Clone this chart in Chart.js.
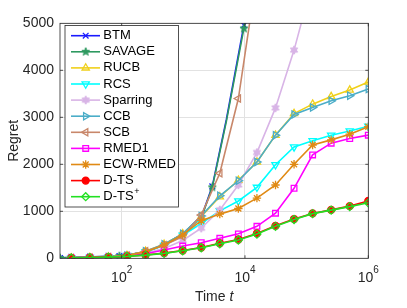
<!DOCTYPE html>
<html>
<head>
<meta charset="utf-8">
<script src="https://cdn.jsdelivr.net/npm/chart.js@4.4.1/dist/chart.umd.min.js"></script>
<style>
  html, body { margin: 0; padding: 0; background: #fff; }
  #wrap { width: 407px; height: 308px; }
</style>
</head>
<body>
<div id="wrap"><canvas id="regretChart" width="407" height="308"></canvas></div>
<script>
// time steps, halving down from 1e6
const timeSteps = [15.26, 30.5, 61, 122, 244, 488, 977, 1953, 3906, 7813, 15625, 31250, 62500, 125000, 250000, 500000, 1000000];
// BTM and SAVAGE blow up early, only a few markers shown on them
const fastTimeSteps = [10, 92, 250, 500, 1000, 2000, 2950, 5000, 9600, 15000];
const fastMarkers = [1, 1, 0, 0, 0, 0, 1, 0, 1, 0];

const btmRegret = [8, 50, 140, 300, 530, 910, 1530, 2960, 4960, 6200];
const savageRegret = [8, 48, 135, 290, 515, 890, 1510, 2920, 4890, 6100];
const rucbRegret = [8, 15, 28, 60, 150, 300, 520, 890, 1310, 1660, 2050, 2620, 3080, 3280, 3440, 3580, 3750];
const rcsRegret = [8, 15, 28, 60, 140, 270, 490, 740, 1010, 1220, 1510, 1990, 2370, 2500, 2620, 2710, 2810];
const sparringRegret = [8, 15, 25, 50, 110, 210, 380, 640, 1030, 1560, 2250, 3200, 4430, 5900];
const ccbRegret = [8, 15, 28, 60, 150, 300, 520, 900, 1330, 1650, 2050, 2620, 3060, 3210, 3350, 3460, 3600];
const scbRegret = [8, 15, 28, 60, 150, 280, 460, 920, 1810, 3400, 6050];
const rmed1Regret = [8, 15, 25, 45, 95, 175, 260, 330, 425, 520, 680, 960, 1490, 2200, 2450, 2550, 2620];
const ecwRmedRegret = [8, 15, 28, 60, 140, 280, 500, 800, 940, 1060, 1280, 1560, 2000, 2410, 2520, 2640, 2800];
const dtsRegret = [8, 15, 25, 40, 70, 110, 165, 230, 320, 400, 530, 690, 835, 955, 1030, 1110, 1220];
const dtsPlusRegret = [8, 15, 25, 40, 68, 105, 160, 225, 310, 390, 515, 680, 825, 950, 1025, 1100, 1180];

const xTickValues = [100, 10000, 1000000];
const xTickExponents = ["2", "4", "6"];

const FONT = "'Liberation Sans', Arial, sans-serif";
Chart.defaults.font.family = FONT;

// little canvas for pentagram / hexagram markers
function starMarker(nPoints, color, size, inner) {
	const c = document.createElement("canvas");
	c.width = size;
	c.height = size;
	const g = c.getContext("2d");
	const cx = size / 2, cy = size / 2, R = size / 2 - 0.8, r = R * inner;
	g.beginPath();
	for (let i = 0; i < nPoints * 2; i++) {
		const ang = -Math.PI / 2 + (i * Math.PI) / nPoints;
		const rad = i % 2 ? r : R;
		g.lineTo(cx + rad * Math.cos(ang), cy + rad * Math.sin(ang));
	}
	g.closePath();
	g.fillStyle = color;
	g.fill();
	g.strokeStyle = color;
	g.lineWidth = 1;
	g.stroke();
	return c;
}

function pts(xs, ys) {
	return ys.map((y, i) => ({ x: xs[i], y: y }));
}

const series = [
	{ label: "BTM", xs: fastTimeSteps, ys: btmRegret, color: "#1a1aff", style: "crossRot", radius: 4, sparse: true },
	{ label: "SAVAGE", xs: fastTimeSteps, ys: savageRegret, color: "#2e9960", style: starMarker(5, "#2e9960", 10, 0.42), radius: 4, sparse: true },
	{ label: "RUCB", xs: timeSteps, ys: rucbRegret, color: "#f0d01a", style: "triangle", radius: 4.2 },
	{ label: "RCS", xs: timeSteps, ys: rcsRegret, color: "#00ffff", style: "triangle", rotation: 180, radius: 4.2 },
	{ label: "Sparring", xs: timeSteps, ys: sparringRegret, color: "#d8b4e6", style: starMarker(6, "#d8b4e6", 10, 0.55), radius: 4 },
	{ label: "CCB", xs: timeSteps, ys: ccbRegret, color: "#4badc8", style: "triangle", rotation: 90, radius: 4.2 },
	{ label: "SCB", xs: timeSteps, ys: scbRegret, color: "#c8876a", style: "triangle", rotation: -90, radius: 4.2 },
	{ label: "RMED1", xs: timeSteps, ys: rmed1Regret, color: "#ff00ff", style: "rect", radius: 4 },
	{ label: "ECW-RMED", xs: timeSteps, ys: ecwRmedRegret, color: "#e08a14", style: "star", radius: 4.2 },
	{ label: "D-TS", xs: timeSteps, ys: dtsRegret, color: "#ff0000", style: "circle", radius: 3.5, filled: true },
	{ label: "D-TS", sup: "+", xs: timeSteps, ys: dtsPlusRegret, color: "#22e022", style: "rectRot", radius: 4 },
];

const datasets = series.map((s, i) => ({
	label: s.label + (s.sup || ""),
	data: pts(s.xs, s.ys),
	borderColor: s.color,
	borderWidth: 1.6,
	pointStyle: s.style,
	pointRotation: s.rotation || 0,
	pointRadius: s.sparse ? fastMarkers.map((m) => (m ? s.radius : 0)) : s.radius,
	pointBorderColor: s.color,
	pointBackgroundColor: s.filled ? s.color : "rgba(0,0,0,0)",
	pointBorderWidth: 1.3,
	tension: 0,
	order: series.length - i, // last series ends up on top
}));

const frame = {
	id: "frame",
	afterDatasetsDraw(chart) {
		const { ctx, chartArea: a, scales } = chart;
		ctx.save();
		ctx.strokeStyle = "#262626";
		ctx.lineWidth = 0.8;
		ctx.strokeRect(a.left, a.top, a.right - a.left, a.bottom - a.top);
		// ticks pointing inward
		ctx.beginPath();
		xTickValues.forEach((v) => {
			const x = scales.x.getPixelForValue(v);
			ctx.moveTo(x, a.bottom);
			ctx.lineTo(x, a.bottom - 3);
			ctx.moveTo(x, a.top);
			ctx.lineTo(x, a.top + 3);
		});
		for (let v = 1000; v < 5000; v += 1000) {
			const y = scales.y.getPixelForValue(v);
			ctx.moveTo(a.left, y);
			ctx.lineTo(a.left + 3, y);
			ctx.moveTo(a.right, y);
			ctx.lineTo(a.right - 3, y);
		}
		ctx.stroke();

		// legend
		const lx = 65, ly = 25.5, lw = 113.5, lh = 181.5;
		ctx.fillStyle = "#fff";
		ctx.fillRect(lx, ly, lw, lh);
		ctx.strokeStyle = "#262626";
		ctx.lineWidth = 0.8;
		ctx.strokeRect(lx, ly, lw, lh);
		series.forEach((s, i) => {
			const y = 35.7 + i * 16.1;
			ctx.strokeStyle = s.color;
			ctx.lineWidth = 1.6;
			ctx.beginPath();
			ctx.moveTo(71, y);
			ctx.lineTo(100, y);
			ctx.stroke();
			ctx.fillStyle = s.filled ? s.color : "rgba(0,0,0,0)";
			ctx.lineWidth = 1.3;
			if (Chart.helpers && Chart.helpers.drawPoint) {
				Chart.helpers.drawPoint(ctx, { pointStyle: s.style, rotation: s.rotation || 0, radius: s.radius, borderWidth: 1.3 }, 85.7, y);
			}
			ctx.fillStyle = "#000";
			ctx.font = "13px " + FONT;
			ctx.textAlign = "left";
			ctx.textBaseline = "middle";
			ctx.fillText(s.label, 103.3, y);
			if (s.sup) {
				const w = ctx.measureText(s.label).width;
				ctx.font = "9px " + FONT;
				ctx.fillText(s.sup, 103.3 + w + 0.5, y - 5);
			}
		});
		ctx.restore();
	},
	afterDraw(chart) {
		const { ctx, chartArea: a, scales } = chart;
		ctx.save();
		ctx.fillStyle = "#262626";
		ctx.textBaseline = "alphabetic";
		// x tick labels 10^k
		xTickValues.forEach((v, i) => {
			const x = scales.x.getPixelForValue(v);
			ctx.font = "14px " + FONT;
			const wb = ctx.measureText("10").width;
			ctx.font = "10px " + FONT;
			const we = ctx.measureText(xTickExponents[i]).width;
			const left = x - (wb + we) / 2;
			ctx.font = "14px " + FONT;
			ctx.textAlign = "left";
			ctx.fillText("10", left, 281.7);
			ctx.font = "10px " + FONT;
			ctx.fillText(xTickExponents[i], left + wb, 272.5);
		});
		// x axis title: Time t
		ctx.font = "14px " + FONT;
		const w1 = ctx.measureText("Time ").width;
		ctx.font = "italic 14px " + FONT;
		const w2 = ctx.measureText("t").width;
		const cx = (a.left + a.right) / 2;
		ctx.font = "14px " + FONT;
		ctx.fillText("Time ", cx - (w1 + w2) / 2, 300.5);
		ctx.font = "italic 14px " + FONT;
		ctx.fillText("t", cx - (w1 + w2) / 2 + w1, 300.5);
		// y axis title
		ctx.translate(14, (a.top + a.bottom) / 2);
		ctx.rotate(-Math.PI / 2);
		ctx.font = "14px " + FONT;
		ctx.textAlign = "center";
		ctx.textBaseline = "middle";
		ctx.fillText("Regret", 0, 0);
		ctx.restore();
	},
};

new Chart(document.getElementById("regretChart"), {
	type: "line",
	data: { datasets: datasets },
	options: {
		responsive: false,
		animation: false,
		devicePixelRatio: 1,
		layout: { padding: { top: 23.3, right: 38.7, left: 0, bottom: 0 } },
		plugins: { legend: { display: false }, tooltip: { enabled: false } },
		scales: {
			x: {
				type: "logarithmic",
				min: 10,
				max: 1000000,
				afterBuildTicks: (s) => {
					s.ticks = xTickValues.map((v) => ({ value: v }));
				},
				afterFit: (s) => {
					s.height = 308 - 258.3;
				},
				ticks: { display: false },
				grid: { color: "#e2e2e2", drawTicks: false },
				border: { display: false },
			},
			y: {
				min: 0,
				max: 5000,
				afterFit: (s) => {
					s.width = 60;
				},
				ticks: { stepSize: 1000, color: "#262626", padding: 6, font: { size: 14 }, callback: (v) => String(v) },
				grid: { color: "#e2e2e2", drawTicks: false },
				border: { display: false },
			},
		},
	},
	plugins: [frame],
});
</script>
</body>
</html>
